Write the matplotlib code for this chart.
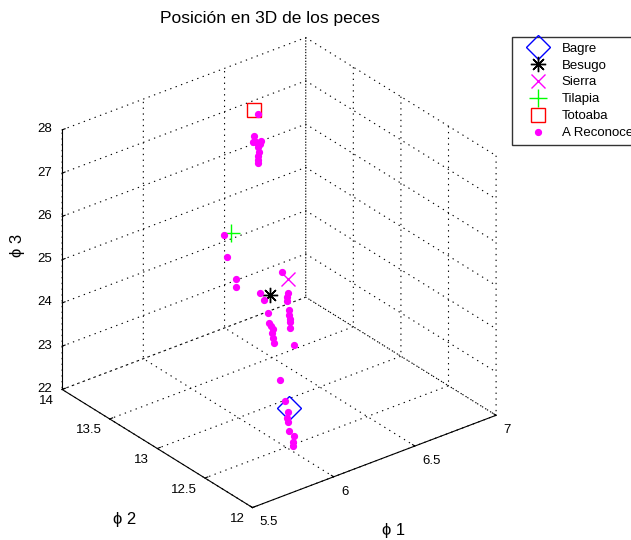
import matplotlib
matplotlib.use('Agg')
import matplotlib.pyplot as plt
from mpl_toolkits.mplot3d import Axes3D  # noqa

plt.rcParams['font.family'] = ['Liberation Sans', 'DejaVu Sans']
plt.rcParams['grid.color'] = 'black'
plt.rcParams['grid.linewidth'] = 0.8

# Reference fish (one per species)
species = ['Bagre', 'Besugo', 'Sierra', 'Tilapia', 'Totoaba']
ref_phi1 = [5.960, 5.960, 6.249, 6.129, 6.506]
ref_phi2 = [12.4, 12.6, 12.9, 13.3, 13.7]
ref_phi3 = [23.11, 25.44, 24.98, 25.67, 27.44]

# Fish to recognise ("A Reconocer")
rec_phi1 = [6.528, 6.508, 6.500, 6.520, 6.546, 6.542, 6.532, 6.536, 6.530, 6.532, 6.532,
            6.086, 6.106, 6.159, 6.159,
            6.211, 6.249, 6.243, 6.241, 6.255, 6.253, 6.261, 6.259, 6.261, 6.284,
            5.901, 5.925, 5.946, 5.952, 5.964, 5.980, 5.970, 5.976, 5.984, 6.020,
            5.934, 5.954, 5.948, 5.952, 5.962, 5.989, 5.985, 5.985]
rec_phi2 = [13.7] * 11 + [13.3] * 4 + [12.9] * 10 + [12.6] * 10 + [12.4] * 8
rec_phi3 = [27.31, 26.84, 26.71, 26.69, 26.67, 26.59, 26.54, 26.43, 26.35, 26.24, 26.17,
            25.70, 25.15, 24.56, 24.38,
            25.21, 24.66, 24.59, 24.49, 24.26, 24.16, 24.05, 23.99, 23.83, 23.41,
            25.56, 25.38, 25.05, 24.81, 24.71, 24.63, 24.54, 24.43, 24.30, 23.38,
            23.30, 23.02, 22.89, 22.79, 22.57, 22.41, 22.28, 22.19]

x_ticks = [5.5, 6, 6.5, 7]
y_ticks = [12, 12.5, 13, 13.5, 14]
z_ticks = [22, 23, 24, 25, 26, 27, 28]

styles = {
    'Bagre':   dict(marker='D', color='#0000ff', ms=12.5),
    'Besugo':  dict(marker=(8, 2, 0), color='#000000', ms=11),
    'Sierra':  dict(marker='x', color='#ff00ff', ms=9.5),
    'Tilapia': dict(marker='+', color='#00ff00', ms=12.5),
    'Totoaba': dict(marker='s', color='#ff0000', ms=10),
}

fig = plt.figure(figsize=(6.31, 5.40), dpi=100)
ax = fig.add_axes([4 / 631, 4 / 540, 0.85, 0.95], projection='3d', proj_type='ortho')
ax.view_init(elev=29, azim=-128)
ax.set_box_aspect((1, 1, 0.96), zoom=1.0)

for name, x, y, z in zip(species, ref_phi1, ref_phi2, ref_phi3):
    st = styles[name]
    ax.plot([x], [y], [z], ls='none', marker=st['marker'], ms=st['ms'],
            mfc='none', mec=st['color'], mew=1.0, label=name)
ax.plot(rec_phi1, rec_phi2, rec_phi3, ls='none', marker='o', ms=4.2,
        color='#ff00ff', mec='#ff00ff', label='A Reconocer')

ax.set_xlim(5.5, 7)
ax.set_ylim(12, 14)
ax.set_zlim(22, 28)
ax.set_xticks(x_ticks)
ax.set_yticks(y_ticks)
ax.set_zticks(z_ticks)
ax.set_xticklabels([f'{v:g}' for v in x_ticks], ha='left', va='center')
ax.set_yticklabels([f'{v:g}' for v in y_ticks], ha='right', va='center')
ax.set_zticklabels([f'{v:g}' for v in z_ticks], ha='right', va='center')

for axis in (ax.xaxis, ax.yaxis, ax.zaxis):
    axis.set_pane_color((1, 1, 1, 0))
    axis.line.set_color('black')
    axis.line.set_linewidth(0.8)
    axis._axinfo['grid'].update(color='black', linestyle=(0, (1.2, 4)), linewidth=0.8)
    axis._axinfo['tick']['inward_factor'] = 0.0
    axis._axinfo['tick']['outward_factor'] = 0.15
ax.tick_params(labelsize=9.5, colors='black')
ax.tick_params(axis='x', pad=-0.5)
ax.tick_params(axis='y', pad=-1.7)
ax.tick_params(axis='z', pad=-3.6)

ax.xaxis._axinfo['label'].update(ha='right', va='top')
ax.yaxis._axinfo['label'].update(ha='left', va='top')
ax.zaxis._axinfo['label'].update(ha='left', va='center', rotation_mode='anchor')
ax.set_xlabel('ϕ 1', fontsize=12, labelpad=10.5)
ax.set_ylabel('ϕ 2', fontsize=12, labelpad=13.9)
ax.zaxis.set_rotate_label(False)
ax.set_zlabel('ϕ 3', fontsize=12, rotation=90, rotation_mode='anchor', labelpad=-1.3)

fig.suptitle('Posición en 3D de los peces', x=270 / 631, y=1 - 18 / 540,
             fontsize=12.5, va='center')

fig.legend(loc='upper left', bbox_to_anchor=(512 / 631, 1 - 37 / 540),
           frameon=True, fancybox=False, edgecolor='black', fontsize=9.5,
           borderaxespad=0, handlelength=3.2, labelspacing=0.36,
           borderpad=0.4, handletextpad=0.18)

fig.savefig('out.png', dpi=100)
